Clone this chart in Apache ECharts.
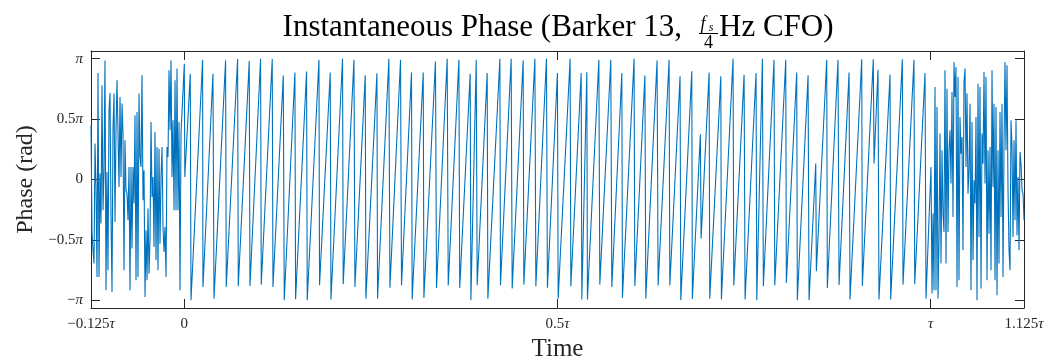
<!DOCTYPE html>
<html>
<head>
<meta charset="utf-8">
<script src="https://cdn.jsdelivr.net/npm/echarts@6/dist/echarts.min.js"></script>
<style>
  html, body { margin: 0; padding: 0; background: #fff; }
  #chart { width: 1049px; height: 363px; }
</style>
</head>
<body>
<div id="chart"></div>
<script>
// time in units of tau, phase in units of pi
var xTickValues = [-0.125, 0, 0.5, 1, 1.125];
var xTickNums = ['\u22120.125', '0', '0.5', '', '1.125'];
var yTickValues = [-1, -0.5, 0, 0.5, 1];
var yTickNums = ['\u2212', '\u22120.5', '0', '0.5', ''];

// noisy part before the pulse (one value per sample)
var leftNoiseStart = -0.125;
var sampleStep = 0.00134;
var leftNoisePhase = [0.448, -0.434, -0.586, -0.696, 0.297, -0.062, -0.807, 0.881, -0.807, 0.049,
  -0.365, 0.779, -0.255, 0.076, 0.986, -0.917, 0.062, -0.751, 0.573, 0.716,
  -0.310, -0.931, 0.421, 0.711, -0.352, 0.407, 0.821, 0.380, -0.062, 0.683,
  0.021, 0.628, 0.380, -0.751, 0.324, -0.089, -0.117, -0.338, 0.103, -0.917,
  0.103, -0.572, 0.103, -0.199, 0.531, -0.834, 0.559, -0.807, 0.711, 0.186,
  0.103, 0.862, -0.172, 0.076, -0.972, -0.420, -0.834, -0.241, -0.779, -0.489,
  0.476, -0.145, 0.021, -0.558, 0.393, -0.669, 0.269, -0.751, 0.255, -0.531,
  0.021, 0.269, -0.393, -0.600, -0.393, -0.807, 0.269, 0.186, 0.904, 0.407,
  0.986, 0.021, 0.490, -0.255, 0.821, -0.255, 0.918, -0.255, 0.476, -0.917, 0.380];

// wrapped phase ramps during the pulse: top / bottom turning points
var sawTime = [0, 0.0007, 0.0080, 0.0090, 0.0245, 0.0250, 0.0384, 0.0398, 0.0553, 0.0562,
  0.0714, 0.0723, 0.0870, 0.0880, 0.1022, 0.1031, 0.1178, 0.1188, 0.1326, 0.1339,
  0.1482, 0.1491, 0.1638, 0.1647, 0.1804, 0.1812, 0.1955, 0.1965, 0.2120, 0.2129,
  0.2273, 0.2286, 0.2424, 0.2433, 0.2581, 0.2589, 0.2741, 0.2755, 0.2897, 0.2910,
  0.3044, 0.3053, 0.3201, 0.3210, 0.3365, 0.3379, 0.3522, 0.3536, 0.3679, 0.3690,
  0.3830, 0.3840, 0.3911, 0.3924, 0.4058, 0.4067, 0.4228, 0.4236, 0.4379, 0.4393,
  0.4540, 0.4549, 0.4697, 0.4710, 0.4852, 0.4865, 0.4999, 0.5009, 0.5169, 0.5179,
  0.5317, 0.5326, 0.5393, 0.5401, 0.5554, 0.5567, 0.5714, 0.5728, 0.5862, 0.5870,
  0.6026, 0.6036, 0.6171, 0.6183, 0.6334, 0.6348, 0.6495, 0.6505, 0.6642, 0.6652,
  0.6799, 0.6807, 0.6914, 0.6924, 0.7031, 0.7040, 0.7188, 0.7196, 0.7352, 0.7362,
  0.7500, 0.7513, 0.7660, 0.7670, 0.7745, 0.7758, 0.7901, 0.7911, 0.8058, 0.8066,
  0.8205, 0.8213, 0.8357, 0.8370, 0.8460, 0.8468, 0.8607, 0.8615, 0.8758, 0.8772,
  0.8906, 0.8919, 0.9076, 0.9084, 0.9231, 0.9241, 0.9294, 0.9307, 0.9455, 0.9464,
  0.9620, 0.9629, 0.9776, 0.9786, 0.9924, 0.9937];
var sawPhase = [0.959, 0.021, 0.876, -1.000, 0.992, -0.890, 0.876, -0.986, 0.986, -0.890,
  0.997, -0.884, 0.981, -0.881, 1.000, -0.870, 0.997, -0.890, 0.860, -1.000,
  0.885, -0.991, 0.893, -1.000, 0.992, -0.875, 0.885, -0.994, 1.000, -0.867,
  0.992, -0.890, 0.862, -0.986, 0.879, -0.986, 1.000, -0.895, 0.992, -0.875,
  0.885, -0.994, 0.885, -0.981, 0.976, -0.898, 1.000, -0.878, 0.991, -0.898,
  0.876, -1.000, 0.992, -0.875, 0.881, -0.986, 1.000, -0.875, 1.000, -0.903,
  0.986, -0.870, 1.000, -0.884, 1.000, -0.895, 0.881, -0.986, 1.000, -0.884,
  0.881, -0.994, 0.887, -0.994, 0.992, -0.870, 0.992, -0.890, 0.881, -0.981,
  1.000, -0.881, 0.861, -0.986, 0.986, -0.878, 0.992, -0.878, 0.854, -1.000,
  0.895, -0.989, 0.374, -0.489, 0.885, -0.986, 0.854, -0.994, 1.000, -0.878,
  0.868, -0.994, 0.881, -1.000, 1.000, -0.884, 0.992, -0.878, 0.992, -0.856,
  0.885, -1.000, 0.862, -1.000, 0.132, -0.760, 0.992, -0.898, 0.992, -0.873,
  0.885, -0.994, 0.995, -0.881, 0.995, 0.132, 0.909, -0.994, 0.868, -0.994,
  0.995, -0.870, 0.992, -0.867, 0.881, -0.986];

// noisy part after the pulse
var rightNoiseStart = 1.0004;
var rightNoisePhase = [0.103, -0.944, -0.282, -0.917, 0.766, -0.917, 0.600, -0.986, -0.489, 0.380,
  -0.696, 0.242, -0.282, -0.434, 0.904, -0.696, 0.752, -0.434, 0.242, 0.407,
  -0.034, 0.725, -0.310, 0.973, 0.683, 0.931, -0.889, 0.849, -0.834, 0.517,
  0.214, 0.352, -0.586, 0.807, 0.918, 0.103, 0.711, -0.117, 0.076, 0.628,
  -0.917, 0.476, -0.669, -0.007, -0.199, 0.517, -1.000, 0.793, -0.476, 0.766,
  -0.903, 0.380, 0.131, 0.890, -0.034, 0.849, -0.834, 0.242, -0.448, 0.269,
  -0.751, 0.904, -0.062, 0.628, -0.834, 0.600, -0.958, 0.242, -0.696, 0.559,
  -0.310, 0.628, -0.807, 0.297, 0.973, 0.242, 0.945, -0.089, -0.586, -0.751,
  0.490, 0.269, -0.476, 0.324, -0.338, 0.490, -0.462, 0.021, -0.586, 0.228,
  0.131, -0.089, -0.117, -0.338];

var data = [];
leftNoisePhase.forEach(function (p, i) { data.push([leftNoiseStart + i * sampleStep, p]); });
sawTime.forEach(function (t, i) { data.push([t, sawPhase[i]]); });
rightNoisePhase.forEach(function (p, i) { data.push([rightNoiseStart + i * sampleStep, p]); });

var serif = '"Liberation Serif", "DejaVu Serif", serif';
var ink = '#262626';
var yLim = 1 + 0.2 / Math.PI;

function pickLabel(values, nums, sym) {
  return function (v) {
    var i = 0;
    for (var k = 0; k < values.length; k++) {
      if (Math.abs(values[k] - v) < 1e-6) i = k;
    }
    if (values[i] === 0) return '{n|0}';
    return '{n|' + nums[i] + '}{g|' + sym + '}';
  };
}
var tickRich = {
  n: { fontFamily: serif, fontSize: 15, color: ink },
  g: { fontFamily: serif, fontSize: 15, fontStyle: 'italic', color: ink }
};

var myChart = echarts.init(document.getElementById('chart'));
var option = {
  animation: false,
  backgroundColor: '#fff',
  grid: { left: 91, right: 25, top: 51, bottom: 55, containLabel: false, outerBoundsMode: 'none' },
  graphic: [
    { type: 'text', x: 682, y: 28, style: { text: 'Instantaneous Phase (Barker 13,', fontFamily: serif, fontSize: 31, fill: '#000', align: 'right', verticalAlign: 'middle' } },
    { type: 'text', x: 703, y: 24, style: { text: 'f', fontFamily: serif, fontStyle: 'italic', fontSize: 18, fill: '#000', align: 'center', verticalAlign: 'middle' } },
    { type: 'text', x: 711, y: 28, style: { text: 's', fontFamily: serif, fontStyle: 'italic', fontSize: 12, fill: '#000', align: 'center', verticalAlign: 'middle' } },
    { type: 'line', shape: { x1: 699, y1: 33.5, x2: 718, y2: 33.5 }, style: { stroke: '#000', lineWidth: 1 } },
    { type: 'text', x: 708.5, y: 43, style: { text: '4', fontFamily: serif, fontSize: 18, fill: '#000', align: 'center', verticalAlign: 'middle' } },
    { type: 'text', x: 719, y: 28, style: { text: 'Hz CFO)', fontFamily: serif, fontSize: 31, fill: '#000', align: 'left', verticalAlign: 'middle' } }
  ],
  xAxis: [{
    type: 'value',
    min: -0.125,
    max: 1.125,
    name: 'Time',
    nameLocation: 'middle',
    nameGap: 28,
    nameTextStyle: { fontFamily: serif, fontSize: 25, color: ink },
    axisLine: { show: true, onZero: false, lineStyle: { color: ink, width: 1 } },
    axisTick: { show: true, inside: true, length: 9, customValues: xTickValues, lineStyle: { color: ink } },
    axisLabel: { show: true, customValues: xTickValues, margin: 9, formatter: function (v) {
      if (Math.abs(v - 1) < 1e-6) return '{g|\u03c4}';
      return pickLabel(xTickValues, xTickNums, '\u03c4')(v);
    }, rich: tickRich },
    splitLine: { show: false }
  }, {
    type: 'value',
    position: 'top',
    min: -0.125,
    max: 1.125,
    axisLine: { show: true, onZero: false, lineStyle: { color: ink, width: 1 } },
    axisTick: { show: true, inside: true, length: 9, customValues: xTickValues, lineStyle: { color: ink } },
    axisLabel: { show: false },
    splitLine: { show: false }
  }],
  yAxis: [{
    type: 'value',
    min: -yLim,
    max: yLim,
    name: 'Phase (rad)',
    nameLocation: 'middle',
    nameRotate: 90,
    nameGap: 48,
    nameTextStyle: { fontFamily: serif, fontSize: 24, color: ink },
    axisLine: { show: true, onZero: false, lineStyle: { color: ink, width: 1 } },
    axisTick: { show: true, inside: true, length: 9, customValues: yTickValues, lineStyle: { color: ink } },
    axisLabel: { show: true, customValues: yTickValues, margin: 8, formatter: pickLabel(yTickValues, yTickNums, '\u03c0'), rich: tickRich },
    splitLine: { show: false }
  }, {
    type: 'value',
    position: 'right',
    min: -yLim,
    max: yLim,
    axisLine: { show: true, onZero: false, lineStyle: { color: ink, width: 1 } },
    axisTick: { show: true, inside: true, length: 9, customValues: yTickValues, lineStyle: { color: ink } },
    axisLabel: { show: false },
    splitLine: { show: false }
  }],
  series: [{
    type: 'line',
    data: data,
    showSymbol: false,
    sampling: null,
    lineStyle: { color: '#0072BD', width: 1.1 },
    itemStyle: { color: '#0072BD' }
  }]
};
myChart.setOption(option);
</script>
</body>
</html>
